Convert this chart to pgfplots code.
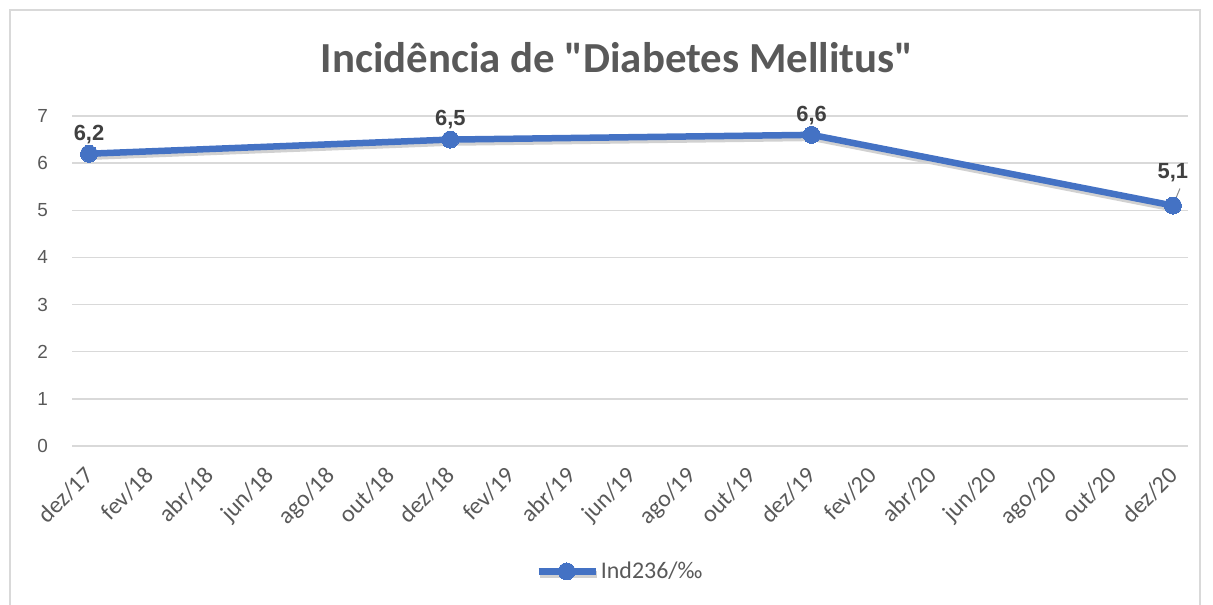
\documentclass[border=0pt]{standalone}
\usepackage{fontspec}
\setmainfont{Carlito}
\newfontfamily\arialf{Liberation Sans}
\usepackage{pgfplots}
\pgfplotsset{compat=1.18}
\definecolor{lineblue}{HTML}{4472C4}
\definecolor{txtgray}{HTML}{595959}
\definecolor{lblgray}{HTML}{404040}
\definecolor{gridgray}{HTML}{D9D9D9}
\newcommand{\dq}{\XeTeXglyph\XeTeXcharglyph"22\relax}
\begin{document}
\begin{tikzpicture}
\path[use as bounding box] (-72bp,-159bp) rectangle (1141bp,446bp);
\draw[gridgray, line width=1.5bp] (-62bp,-165bp) rectangle (1128bp,436bp);
\begin{axis}[
  at={(0,0)}, anchor=south west,
  scale only axis, width=1116bp, height=330bp,
  xmin=-0.565, xmax=36.5, ymin=0, ymax=7,
  ytick={0,1,...,7},
  xtick={0,2,...,36},
  xticklabels={dez/17,fev/18,abr/18,jun/18,ago/18,out/18,dez/18,fev/19,abr/19,jun/19,ago/19,out/19,dez/19,fev/20,abr/20,jun/20,ago/20,out/20,dez/20},
  axis line style={draw=none},
  major tick length=0pt,
  ymajorgrids,
  grid style={gridgray, line width=1.5bp},
  /pgf/number format/assume math mode=true,
  yticklabel style={font=\arialf\fontsize{19}{22}\selectfont, text=txtgray, anchor=east, inner sep=0pt, xshift=-24bp},
  xticklabel style={font=\fontsize{24}{27}\selectfont, text=txtgray, inner sep=0pt, xshift=6bp, yshift=-31bp, rotate=45, anchor=base east},
  legend style={at={(0.491,-0.38)}, anchor=center, draw=none, fill=none,
    font=\fontsize{24}{27}\selectfont, text=txtgray, inner sep=0pt,
    /tikz/every even column/.append style={column sep=2bp}},
  legend image code/.code={\draw[mark repeat=2,mark phase=2,#1] plot coordinates {(0bp,0bp) (28bp,0bp) (57bp,0bp)};},
  nodes near coords,
  point meta=y,
  every node near coord/.append style={font=\arialf\fontsize{22}{25}\selectfont\bfseries, text=lblgray, anchor=south, yshift=7bp,
    /pgf/number format/.cd, fixed, fixed zerofill, precision=1, use comma},
  clip=false,
]
\addplot[color=lineblue, line width=6.5bp, mark=*, mark size=8.5bp,
  mark options={fill=lineblue, draw=lineblue, line width=0bp},
  preaction={draw, black!18, line width=6.5bp, transform canvas={xshift=1bp, yshift=-3bp}},
  coordinate style/.condition={\coordindex==3}{yshift=13bp}]
  coordinates {(0,6.2) (12,6.5) (24,6.6) (36,5.1)};
\addlegendentry{Ind236/‰}
\draw[black!45, line width=1bp] (axis cs:36,5.1) ++(2bp,5bp) -- ++(5bp,12bp);
\end{axis}
\node[anchor=base, text=txtgray, font=\fontsize{43}{47}\selectfont\bfseries] at (545bp,373bp) {Incidência de \dq Diabetes Mellitus\dq};
\end{tikzpicture}
\end{document}
